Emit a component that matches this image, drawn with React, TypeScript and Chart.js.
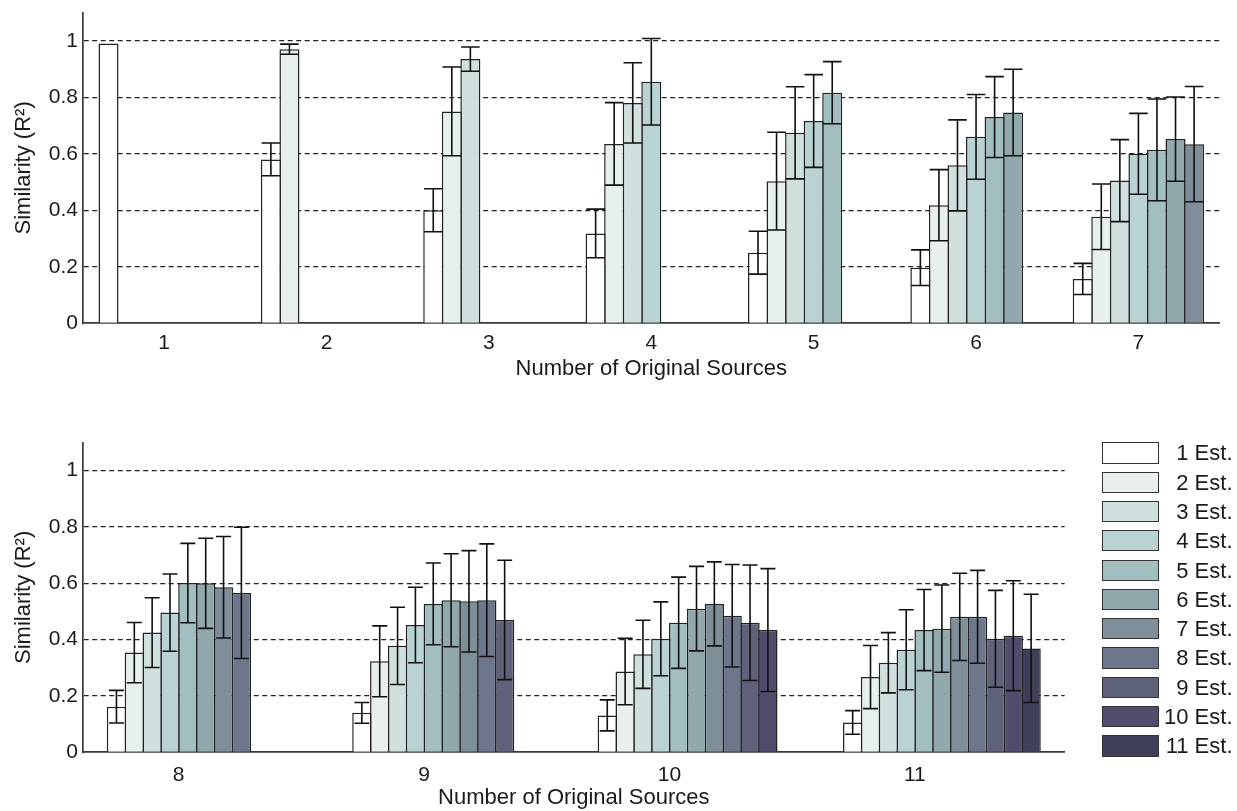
import React, { useEffect, useRef } from "react";
import { Chart, registerables } from "chart.js";

Chart.register(...registerables);

// ---------- data ----------
const SERIES_LABELS = ["1 Est.", "2 Est.", "3 Est.", "4 Est.", "5 Est.", "6 Est.", "7 Est.", "8 Est.", "9 Est.", "10 Est.", "11 Est."];
const SERIES_COLORS = ["#FFFFFF", "#E7F0EE", "#D0E0DF", "#B9D3D2", "#A2BEBF", "#91A9AD", "#7F8F9A", "#6D768B", "#5F617A", "#4F4D6B", "#403F58"];

const TOP_SOURCES = [1, 2, 3, 4, 5, 6, 7];
const BOTTOM_SOURCES = [8, 9, 10, 11];
const Y_TICKS = [0, 0.2, 0.4, 0.6, 0.8, 1];

// mean similarity (R^2) and standard deviation, per number of original sources
const MEAN_1 = [0.99];
const SD_1 = [0];
const MEAN_2 = [0.58, 0.97];
const SD_2 = [0.058, 0.018];
const MEAN_3 = [0.4, 0.75, 0.935];
const SD_3 = [0.076, 0.157, 0.043];
const MEAN_4 = [0.318, 0.635, 0.78, 0.855];
const SD_4 = [0.086, 0.146, 0.142, 0.153];
const MEAN_5 = [0.25, 0.503, 0.674, 0.716, 0.816];
const SD_5 = [0.076, 0.173, 0.163, 0.164, 0.11];
const MEAN_6 = [0.197, 0.418, 0.559, 0.66, 0.73, 0.746];
const SD_6 = [0.063, 0.126, 0.161, 0.15, 0.143, 0.153];
const MEAN_7 = [0.157, 0.377, 0.505, 0.6, 0.614, 0.652, 0.634];
const SD_7 = [0.055, 0.116, 0.145, 0.143, 0.18, 0.149, 0.204];
const MEAN_8 = [0.162, 0.354, 0.425, 0.496, 0.601, 0.6, 0.586, 0.566];
const SD_8 = [0.058, 0.107, 0.124, 0.137, 0.141, 0.16, 0.18, 0.233];
const MEAN_9 = [0.14, 0.323, 0.378, 0.452, 0.527, 0.54, 0.536, 0.54, 0.47];
const SD_9 = [0.037, 0.126, 0.137, 0.134, 0.145, 0.165, 0.18, 0.2, 0.212];
const MEAN_10 = [0.131, 0.287, 0.348, 0.403, 0.46, 0.51, 0.527, 0.485, 0.46, 0.434];
const SD_10 = [0.055, 0.118, 0.121, 0.131, 0.162, 0.15, 0.149, 0.182, 0.205, 0.218];
const MEAN_11 = [0.106, 0.267, 0.318, 0.364, 0.434, 0.439, 0.481, 0.481, 0.403, 0.414, 0.369];
const SD_11 = [0.042, 0.112, 0.107, 0.142, 0.144, 0.155, 0.155, 0.165, 0.172, 0.195, 0.192];

const TOP_MEANS = [MEAN_1, MEAN_2, MEAN_3, MEAN_4, MEAN_5, MEAN_6, MEAN_7];
const TOP_SDS = [SD_1, SD_2, SD_3, SD_4, SD_5, SD_6, SD_7];
const BOTTOM_MEANS = [MEAN_8, MEAN_9, MEAN_10, MEAN_11];
const BOTTOM_SDS = [SD_8, SD_9, SD_10, SD_11];

// ---------- styling ----------
const FONT_FAMILY = "'Liberation Sans', Arial, Helvetica, sans-serif";
const TEXT_COLOR = "#1a1a1a";
const AXIS_COLOR = "#3a3a3a";

const errorBarPlugin = {
  id: "errorBars",
  afterDatasetsDraw(chart: any, _args: any, opts: any) {
    const ctx = chart.ctx;
    const yScale = chart.scales.y;
    ctx.save();
    ctx.strokeStyle = opts.color || "#111";
    ctx.lineWidth = opts.lineWidth || 1.5;
    chart.data.datasets.forEach((ds: any, i: number) => {
      const meta = chart.getDatasetMeta(i);
      meta.data.forEach((el: any, j: number) => {
        const pt = ds.data[j];
        if (!pt || pt.y == null || pt.sd == null || pt.sd <= 0) return;
        const x = el.x;
        const yHi = yScale.getPixelForValue(pt.y + pt.sd);
        const yLo = yScale.getPixelForValue(pt.y - pt.sd);
        const h = opts.capHalf || 8;
        ctx.beginPath();
        ctx.moveTo(x, yHi);
        ctx.lineTo(x, yLo);
        ctx.moveTo(x - h, yHi);
        ctx.lineTo(x + h, yHi);
        ctx.moveTo(x - h, yLo);
        ctx.lineTo(x + h, yLo);
        ctx.stroke();
      });
    });
    ctx.restore();
  },
};

function buildDatasets(sources: number[], means: number[][], sds: number[][], seriesCount: number) {
  const out: any[] = [];
  for (let k = 0; k < seriesCount; k++) {
    out.push({
      label: SERIES_LABELS[k],
      data: sources.map((n, g) => ({
        x: n,
        y: k < means[g].length ? means[g][k] : null,
        sd: k < sds[g].length ? sds[g][k] : null,
      })),
      backgroundColor: SERIES_COLORS[k],
      borderColor: "#222",
      borderWidth: 1.5,
      borderSkipped: "start",
      categoryPercentage: 0.8,
      barPercentage: 1.08,
    });
  }
  return out;
}

type PanelSpec = {
  sources: number[];
  means: number[][];
  sds: number[][];
  seriesCount: number;
  padRight: number;
  padTop: number;
  xHeight: number;
  tickPad: number;
  titlePadBottom: number;
  labelOffset: number;
  capHalf: number;
};

function makeConfig(p: PanelSpec): any {
  const xMin = p.sources[0] - 0.5;
  const xMax = p.sources[p.sources.length - 1] + 0.5;
  return {
    type: "bar",
    data: { datasets: buildDatasets(p.sources, p.means, p.sds, p.seriesCount) },
    plugins: [errorBarPlugin],
    options: {
      animation: false,
      responsive: false,
      maintainAspectRatio: false,
      events: [],
      layout: { padding: { left: 0, right: p.padRight, top: p.padTop, bottom: 0 } },
      plugins: {
        legend: { display: false },
        tooltip: { enabled: false },
        errorBars: { color: "#111", lineWidth: 1.6, capHalf: p.capHalf },
      },
      scales: {
        x: {
          type: "linear",
          min: xMin,
          max: xMax,
          offset: false,
          grid: { display: false, drawTicks: false, offset: false },
          border: { display: true, color: AXIS_COLOR, width: 1.7 },
          ticks: {
            autoSkip: false,
            padding: p.tickPad,
            labelOffset: p.labelOffset,
            maxRotation: 0,
            color: TEXT_COLOR,
            font: { family: FONT_FAMILY, size: 21 },
            callback: (v: number) => String(v),
          },
          afterBuildTicks: (s: any) => {
            s.ticks = p.sources.map((v) => ({ value: v }));
          },
          afterFit: (s: any) => {
            s.height = p.xHeight;
            s.paddingLeft = 0;
            s.paddingRight = 0;
          },
          title: {
            display: true,
            text: "Number of Original Sources",
            color: TEXT_COLOR,
            font: { family: FONT_FAMILY, size: 22 },
            padding: { top: 0, bottom: p.titlePadBottom },
          },
        },
        y: {
          min: 0,
          max: 1.1,
          grid: {
            color: (c: any) => (c.tick && c.tick.value === 0 ? "rgba(0,0,0,0)" : "#222"),
            lineWidth: 1.2,
            drawTicks: false,
            borderDash: [5, 3.5],
          },
          border: { display: true, color: AXIS_COLOR, width: 1.7, dash: [5, 3.5] },
          ticks: {
            padding: 5,
            color: TEXT_COLOR,
            font: { family: FONT_FAMILY, size: 21 },
            callback: (v: number) => String(Math.round(v * 10) / 10),
          },
          afterBuildTicks: (s: any) => {
            s.ticks = Y_TICKS.map((v) => ({ value: v }));
          },
          afterFit: (s: any) => {
            s.width = 83;
            s.paddingTop = 0;
            s.paddingBottom = 0;
          },
          title: {
            display: true,
            text: "Similarity (R\u00B2)",
            color: TEXT_COLOR,
            font: { family: FONT_FAMILY, size: 22 },
            padding: { top: 11, bottom: 0 },
          },
        },
      },
    },
  };
}

const TOP_PANEL: PanelSpec = {
  sources: TOP_SOURCES,
  means: TOP_MEANS,
  sds: TOP_SDS,
  seriesCount: 7,
  padRight: 17.4,
  padTop: 12.5,
  xHeight: 76.7,
  tickPad: 7,
  titlePadBottom: 17.5,
  labelOffset: 0,
  capHalf: 9.3,
};

const BOTTOM_PANEL: PanelSpec = {
  sources: BOTTOM_SOURCES,
  means: BOTTOM_MEANS,
  sds: BOTTOM_SDS,
  seriesCount: 11,
  padRight: 172.4,
  padTop: 42.5,
  xHeight: 58.7,
  tickPad: 10,
  titlePadBottom: 0,
  labelOffset: -27,
  capHalf: 7.5,
};

export default function App() {
  const topRef = useRef<HTMLCanvasElement>(null);
  const botRef = useRef<HTMLCanvasElement>(null);

  useEffect(() => {
    const c1 = new Chart(topRef.current as HTMLCanvasElement, makeConfig(TOP_PANEL));
    const c2 = new Chart(botRef.current as HTMLCanvasElement, makeConfig(BOTTOM_PANEL));
    return () => {
      c1.destroy();
      c2.destroy();
    };
  }, []);

  return (
    <div
      style={{
        position: "absolute",
        left: 0,
        top: 0,
        width: 1237,
        height: 811,
        background: "#fff",
        overflow: "hidden",
        fontFamily: FONT_FAMILY,
      }}
    >
      <canvas
        ref={topRef}
        width={1237}
        height={400}
        style={{ position: "absolute", left: 0, top: 0, width: 1237, height: 400 }}
      />
      <canvas
        ref={botRef}
        width={1237}
        height={411}
        style={{ position: "absolute", left: 0, top: 400, width: 1237, height: 411 }}
      />
      {SERIES_LABELS.map((lab, i) => (
        <div key={lab}>
          <div
            style={{
              position: "absolute",
              left: 1101.5,
              top: 442.3 + i * 29.3,
              width: 57.5,
              height: 21.3,
              boxSizing: "border-box",
              border: "1.5px solid #333",
              background: SERIES_COLORS[i],
            }}
          />
          <div
            style={{
              position: "absolute",
              right: 1237 - 1232.5,
              top: 442.3 + i * 29.3 - 2,
              height: 25.3,
              lineHeight: "25.3px",
              fontSize: 22,
              color: TEXT_COLOR,
              whiteSpace: "nowrap",
              textAlign: "right",
            }}
          >
            {lab}
          </div>
        </div>
      ))}
    </div>
  );
}
